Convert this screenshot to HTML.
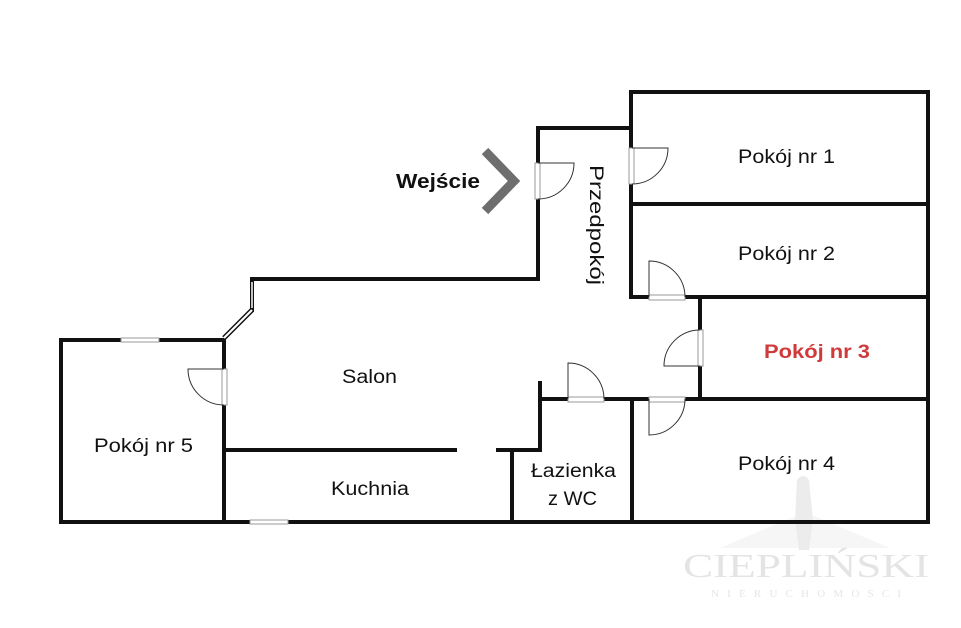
<!DOCTYPE html>
<html><head><meta charset="utf-8"><style>
html,body{margin:0;padding:0;background:#fff;}
svg{display:block;}
text{font-family:"Liberation Sans",sans-serif;}
</style></head><body>
<svg width="961" height="628" viewBox="0 0 961 628" xmlns="http://www.w3.org/2000/svg">
<rect width="961" height="628" fill="#fff"/>
<!-- watermark -->
<path d="M720 548 L805 512 L890 548 Z" fill="#f6f6f6"/>
<path d="M797 480 q6-8 12 0 l4 40 l-4 30 h-10 l-4-30 z" fill="#ececec"/>
<text x="806" y="577" text-anchor="middle" font-size="34" fill="#e4e4e4" textLength="246" lengthAdjust="spacingAndGlyphs" style="font-family:'Liberation Serif',serif">CIEPLIŃSKI</text>
<text x="806" y="597" text-anchor="middle" font-size="11" fill="#e6e6e6" textLength="190" lengthAdjust="spacing" style="font-family:'Liberation Serif',serif">NIERUCHOMOSCI</text>
<g stroke="#111" stroke-width="4" fill="none" stroke-linecap="square">
<polyline points="224,340 61,340 61,522 928,522 928,92 631,92 631,297 928,297"/>
<line x1="631" y1="204" x2="928" y2="204"/>
<polyline points="631,128 538,128 538,279 252,279 252,310"/>
<line x1="224" y1="340" x2="224" y2="522"/>
<line x1="700" y1="297" x2="700" y2="399"/>
<line x1="540" y1="399" x2="928" y2="399"/>
<polyline points="540,383 540,450 498,450"/>
<line x1="224" y1="450" x2="455" y2="450"/>
<line x1="512" y1="450" x2="512" y2="522"/>
<line x1="632" y1="399" x2="632" y2="522"/>
</g>
<line x1="252" y1="310" x2="224" y2="338" stroke="#111" stroke-width="5"/>
<line x1="252" y1="310" x2="224" y2="338" stroke="#fff" stroke-width="2"/>
<line x1="252" y1="282" x2="252" y2="308" stroke="#fff" stroke-width="1.5"/>
<g fill="#fff" stroke="#999" stroke-width="1">
<rect x="121" y="338" width="38" height="4"/>
<rect x="250" y="520" width="38" height="4"/>
<rect x="535" y="163" width="5" height="36"/>
<rect x="629" y="148" width="5" height="36"/>
<rect x="649" y="295" width="36" height="5"/>
<rect x="698" y="330" width="5" height="36"/>
<rect x="568" y="397" width="36" height="5"/>
<rect x="649" y="397" width="36" height="5"/>
<rect x="222" y="369" width="5" height="36"/>
</g>
<g stroke="#333" stroke-width="1" fill="none">
<path d="M538 163 H574 A36 36 0 0 1 538 199"/>
<path d="M632 148 H668 A36 36 0 0 1 632 184"/>
<path d="M649 297 V261 A36 36 0 0 1 685 297"/>
<path d="M700 366 H664 A36 36 0 0 1 700 330"/>
<path d="M568 399 V363 A36 36 0 0 1 604 399"/>
<path d="M649 399 V435 A36 36 0 0 0 685 399"/>
<path d="M224 369 H188 A36 36 0 0 0 224 405"/>
</g>
<polyline points="485,151 514,181 485,211" fill="none" stroke="#6e6e6e" stroke-width="9"/>
<g font-size="19" fill="#111" lengthAdjust="spacingAndGlyphs">
<text x="396" y="188" font-weight="bold" font-size="20" textLength="84" lengthAdjust="spacingAndGlyphs">Wejście</text>
<text x="738" y="163" textLength="97" lengthAdjust="spacingAndGlyphs">Pokój nr 1</text>
<text x="738" y="260" textLength="97" lengthAdjust="spacingAndGlyphs">Pokój nr 2</text>
<text x="764" y="358" font-weight="bold" fill="#d03a3a" textLength="106" lengthAdjust="spacingAndGlyphs">Pokój nr 3</text>
<text x="738" y="470" textLength="97" lengthAdjust="spacingAndGlyphs">Pokój nr 4</text>
<text x="94" y="452" textLength="99" lengthAdjust="spacingAndGlyphs">Pokój nr 5</text>
<text x="342" y="383" textLength="55" lengthAdjust="spacingAndGlyphs">Salon</text>
<text x="331" y="495" textLength="78" lengthAdjust="spacingAndGlyphs">Kuchnia</text>
<text x="531" y="477" textLength="85" lengthAdjust="spacingAndGlyphs">Łazienka</text>
<text x="548" y="505" textLength="49" lengthAdjust="spacingAndGlyphs">z WC</text>
<text transform="translate(590,165) rotate(90)" textLength="120" lengthAdjust="spacingAndGlyphs">Przedpokój</text>
</g>
</svg>
</body></html>
